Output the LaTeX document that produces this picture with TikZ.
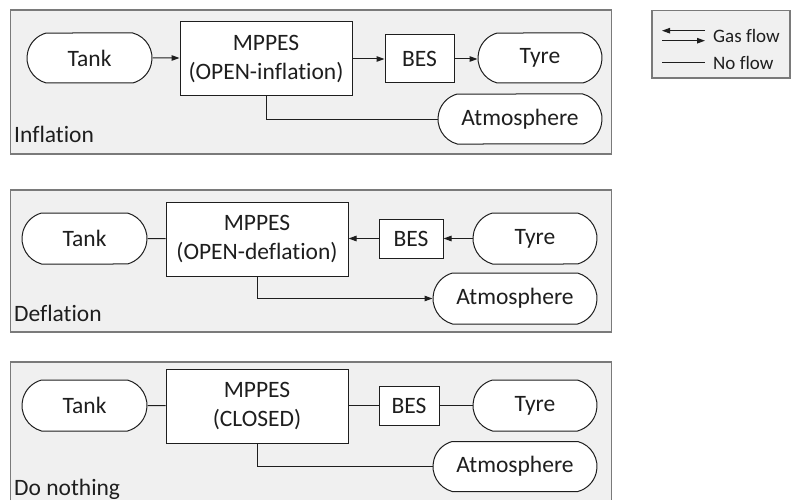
\documentclass[tikz,border=0pt]{standalone}
\usepackage{fontspec}
\setmainfont{Carlito}[Ligatures=CommonOff]
\usetikzlibrary{shapes.misc,arrows.meta}
\definecolor{panelfill}{HTML}{F0F0F0}
\definecolor{panelline}{HTML}{7A7A7A}
\definecolor{ink}{HTML}{1E1E1E}
\begin{document}
\begin{tikzpicture}[x=1pt,y=-1pt,
  panel/.style={draw=panelline,fill=panelfill,line width=1.3pt},
  term/.style={rounded rectangle,rounded rectangle arc length=150,draw=ink,fill=white,
    line width=1pt,inner sep=0pt,minimum height=50pt,text=ink,
    font=\fontsize{23.5}{28}\selectfont},
  unit/.style={rectangle,draw=ink,fill=white,line width=1pt,inner sep=0pt,align=center,
    text=ink,font=\fontsize{23.5}{29}\selectfont},
  modelabel/.style={anchor=base west,inner sep=0pt,text=ink,font=\fontsize{23.5}{28}\selectfont},
  keylabel/.style={anchor=west,inner sep=0pt,text=ink,font=\fontsize{19}{22}\selectfont},
  flow/.style={draw=ink,line width=1pt,-{Triangle[length=8pt,width=5.5pt]}},
  noflow/.style={draw=ink,line width=1pt}]
\useasboundingbox (0,0) rectangle (791,500);

% ---- panel backgrounds ----
\draw[panel] (10.5,10) rectangle (611.5,154);
\draw[panel] (10.5,190) rectangle (611.5,332);
\fill[panelfill] (10.5,362) rectangle (611.5,500);
\draw[panelline,line width=1.3pt] (10.5,500) -- (10.5,362) -- (611.5,362) -- (611.5,500);

% ---- legend ----
\draw[panel] (652,10.5) rectangle (790,78);
\coordinate (ga) at (705,30.7);
\coordinate (gb) at (662,30.7);
\coordinate (gc) at (662,40.7);
\coordinate (gd) at (705,40.7);
\coordinate (na) at (662,63);
\coordinate (nb) at (705,63);
\draw[flow] (ga) -- (gb);
\draw[flow] (gc) -- (gd);
\draw[noflow] (na) -- (nb);
\node[keylabel] (gaskey) at (713,35.7) {Gas flow};
\node[keylabel] (nokey) at (713,63) {No flow};

% ---- inflation ----
\node[term,minimum width=125pt] (tank1) at (89.5,58) {Tank};
\node[unit,minimum width=172pt,minimum height=74pt] (mp1) at (266,59) {MPPES\\(OPEN-inflation)};
\node[unit,minimum width=69pt,minimum height=48pt] (bes1) at (419.5,59) {BES};
\node[term,minimum width=124pt] (tyre1) at (540,58) {Tyre};
\node[term,minimum width=164pt] (atm1) at (520,119) {Atmosphere};
\node[modelabel] (lab1) at (14,142.7) {Inflation};
\draw[flow] (tank1) -- (mp1.west |- tank1);
\draw[flow] (mp1.east |- bes1) -- (bes1);
\draw[flow] (bes1) -- (tyre1.west |- bes1);
\draw[noflow] (mp1.south) |- (atm1.west);

% ---- deflation ----
\node[term,minimum width=125pt,minimum height=51pt] (tank2) at (84.5,238.5) {Tank};
\node[unit,minimum width=182pt,minimum height=74pt] (mp2) at (257,239) {MPPES\\(OPEN-deflation)};
\node[unit,minimum width=64pt,minimum height=39pt] (bes2) at (411,238.5) {BES};
\node[term,minimum width=124pt,minimum height=51pt] (tyre2) at (535,238.5) {Tyre};
\node[term,minimum width=164pt,minimum height=51pt] (atm2) at (515,298.5) {Atmosphere};
\node[modelabel] (lab2) at (14,321.7) {Deflation};
\draw[noflow] (tank2) -- (mp2.west |- tank2);
\draw[flow] (bes2) -- (mp2.east |- bes2);
\draw[flow] (tyre2) -- (bes2);
\draw[flow] (mp2.south) |- (atm2.west);

% ---- do nothing ----
\node[term,minimum width=125pt,minimum height=51pt] (tank3) at (84.5,405.5) {Tank};
\node[unit,minimum width=182pt,minimum height=74pt] (mp3) at (257,406) {MPPES\\(CLOSED)};
\node[unit,minimum width=60pt,minimum height=39pt] (bes3) at (409,405.5) {BES};
\node[term,minimum width=124pt,minimum height=51pt] (tyre3) at (535,405.5) {Tyre};
\node[term,minimum width=164pt] (atm3) at (515,466.5) {Atmosphere};
\node[modelabel] (lab3) at (14,495) {Do nothing};
\draw[noflow] (tank3) -- (mp3.west |- tank3);
\draw[noflow] (mp3.east |- bes3) -- (bes3);
\draw[noflow] (bes3) -- (tyre3);
\draw[noflow] (mp3.south) |- (atm3.west);
\end{tikzpicture}
\end{document}
